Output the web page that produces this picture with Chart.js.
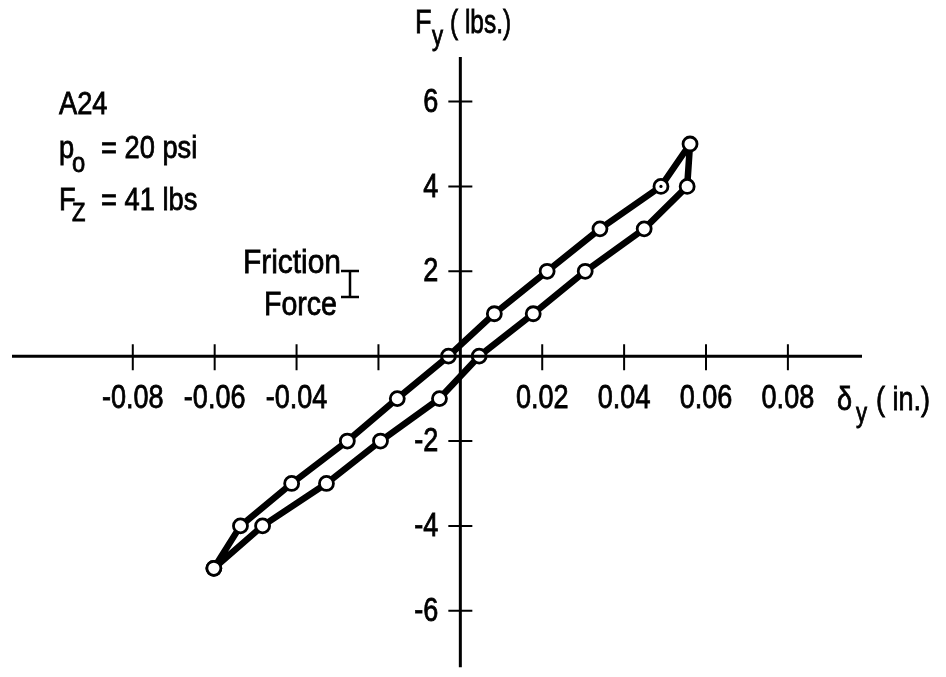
<!DOCTYPE html>
<html>
<head>
<meta charset="utf-8">
<script src="https://cdn.jsdelivr.net/npm/chart.js@4.4.1/dist/chart.umd.min.js"></script>
<style>
  body { margin: 0; background: #fff; }
  #wrap { width: 946px; height: 677px; position: relative; }
</style>
</head>
<body>
<div id="wrap"><canvas id="myChart"></canvas></div>
<script>
// upper branch, from the negative end to the positive end
const upperX = [-0.0602, -0.0537, -0.0412, -0.0276, -0.0154, -0.0029, 0.0083, 0.0212, 0.0341, 0.0490, 0.0561]
const upperY = [-5, -4, -3, -2, -1, 0, 1, 2, 3, 4, 5]
// lower branch, from the positive end back to the negative end
const lowerX = [0.0554, 0.0449, 0.0305, 0.0178, 0.0046, -0.0051, -0.0195, -0.0327, -0.0483]
const lowerY = [4, 3, 2, 1, 0, -1, -2, -3, -4]

const xTicks = [-0.08, -0.06, -0.04, -0.02, 0.02, 0.04, 0.06, 0.08]
const xTickLabels = ['-0.08', '-0.06', '-0.04', '', '0.02', '0.04', '0.06', '0.08']
const yTicks = [6, 4, 2, -2, -4, -6]
const yTickLabels = ['6', '4', '2', '-2', '-4', '-6']

const FONT = '"Liberation Sans", Arial, sans-serif'

// closed loop: up one branch, back down the other
const loop = []
upperX.forEach((x, i) => loop.push({x: x, y: upperY[i]}))
lowerX.forEach((x, i) => loop.push({x: x, y: lowerY[i]}))
loop.push({x: upperX[0], y: upperY[0]})

// the original lettering is a narrow, fairly heavy face: squeeze Liberation Sans
function narrowText(ctx, text, x, y, size, squeeze, align, baseline) {
    ctx.save()
    ctx.font = size + 'px ' + FONT
    ctx.textAlign = align || 'left'
    ctx.textBaseline = baseline || 'alphabetic'
    ctx.translate(x, y)
    ctx.scale(squeeze, 1)
    ctx.lineWidth = 0.8
    ctx.fillText(text, 0, 0)
    ctx.strokeText(text, 0, 0)
    ctx.restore()
}

const axesPlugin = {
    id: 'axesPlugin',
    afterDraw(chart) {
        const ctx = chart.ctx
        const xs = chart.scales.x
        const ys = chart.scales.y
        const area = chart.chartArea
        const x0 = xs.getPixelForValue(0)
        const y0 = ys.getPixelForValue(0)
        ctx.save()
        ctx.strokeStyle = '#000'
        ctx.fillStyle = '#000'

        // axis lines
        ctx.lineWidth = 3
        ctx.beginPath()
        ctx.moveTo(area.left, y0); ctx.lineTo(area.right, y0)
        ctx.moveTo(x0, area.top); ctx.lineTo(x0, area.bottom)
        ctx.stroke()

        // ticks crossing the axes
        ctx.lineWidth = 2
        ctx.beginPath()
        xTicks.forEach(v => {
            const px = xs.getPixelForValue(v)
            ctx.moveTo(px, y0 - 12); ctx.lineTo(px, y0 + 14)
        })
        yTicks.forEach(v => {
            const py = ys.getPixelForValue(v)
            ctx.moveTo(x0 - 12, py); ctx.lineTo(x0 + 12, py)
        })
        ctx.stroke()

        // tick labels
        xTicks.forEach((v, i) => {
            narrowText(ctx, xTickLabels[i], xs.getPixelForValue(v), y0 + 52, 33, 0.82, 'center')
        })
        yTicks.forEach((v, i) => {
            narrowText(ctx, yTickLabels[i], x0 - 22, ys.getPixelForValue(v) + 1, 33, 0.82, 'right', 'middle')
        })

        // axis titles
        narrowText(ctx, 'F', 415, 33, 33, 0.82)
        narrowText(ctx, 'y', 432, 45, 27, 0.82)
        narrowText(ctx, '( lbs.)', 450, 33, 33, 0.74)
        narrowText(ctx, '\u03b4', 837, 410, 33, 0.82)
        narrowText(ctx, 'y', 856, 422, 27, 0.82)
        narrowText(ctx, '( in.)', 876, 410, 33, 0.82)

        // annotation block
        narrowText(ctx, 'A24', 59, 114, 31, 0.88)
        narrowText(ctx, 'p', 59, 158, 31, 0.88)
        narrowText(ctx, 'o', 72, 172, 27, 0.88)
        narrowText(ctx, '= 20 psi', 101, 158, 31, 0.88)
        narrowText(ctx, 'F', 59, 210, 31, 0.88)
        narrowText(ctx, 'Z', 72, 221, 25, 0.88)
        narrowText(ctx, '= 41 lbs', 101, 210, 31, 0.88)

        narrowText(ctx, 'Friction', 341, 273, 34, 0.88, 'right')
        narrowText(ctx, 'Force', 337, 315, 34, 0.84, 'right')

        // friction force bar
        ctx.lineWidth = 2.5
        ctx.beginPath()
        ctx.moveTo(341, 271); ctx.lineTo(359, 271)
        ctx.moveTo(350, 271); ctx.lineTo(350, 297)
        ctx.moveTo(341, 297); ctx.lineTo(359, 297)
        ctx.stroke()
        ctx.restore()
    }
}

new Chart("myChart", {
    type: "scatter",
    data: {
        datasets: [{
            data: [{x: upperX[9], y: upperY[9]}],
            showLine: false,
            pointRadius: 1.6,
            pointBorderWidth: 0,
            pointBackgroundColor: "#000",
        }, {
            data: loop,
            showLine: true,
            fill: false,
            tension: 0,
            borderColor: "#000",
            borderWidth: 6.5,
            borderJoinStyle: "round",
            pointRadius: 7,
            pointBorderWidth: 2.8,
            pointBorderColor: "#000",
            pointBackgroundColor: "#fff",
        }]
    },
    plugins: [axesPlugin],
    options: {
        responsive: true,
        maintainAspectRatio: false,
        animation: false,
        layout: {padding: {left: 12, right: 84, top: 57, bottom: 6}},
        plugins: {legend: {display: false}, tooltip: {enabled: false}},
        scales: {
            x: {type: "linear", min: -0.1095, max: 0.0981, display: false},
            y: {type: "linear", min: -7.33, max: 7.05, display: false}
        }
    }
})
</script>
</body>
</html>
